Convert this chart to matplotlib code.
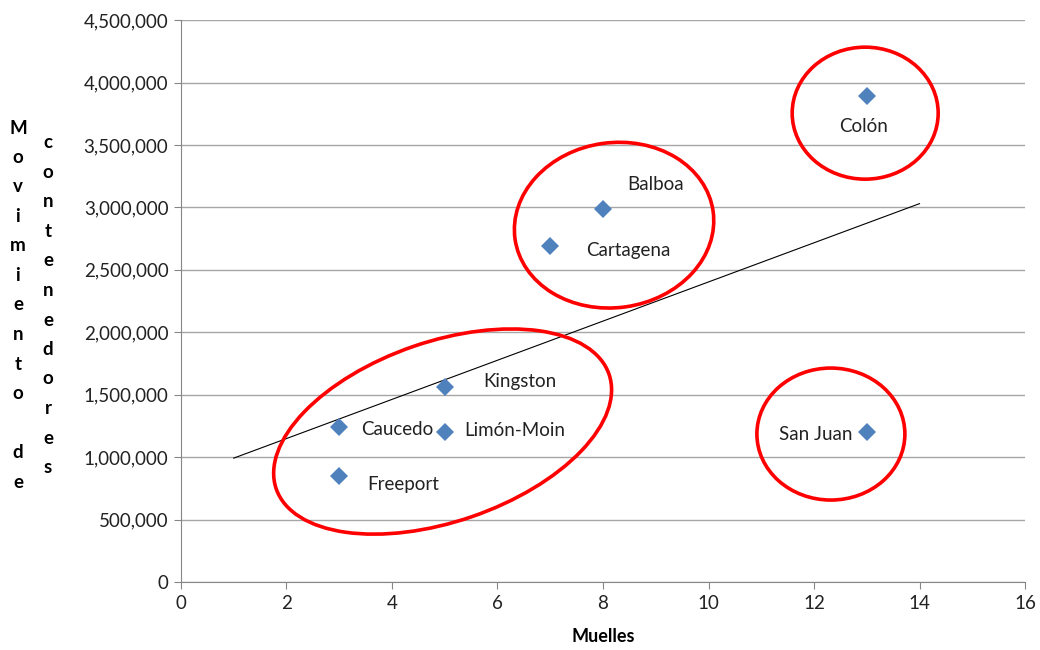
import numpy as np
import matplotlib
matplotlib.use('Agg')
import matplotlib.pyplot as plt
from matplotlib.patches import Ellipse
from matplotlib.transforms import ScaledTranslation
from matplotlib.ticker import FuncFormatter

plt.rcParams['font.family'] = ['Lato', 'DejaVu Sans']

# puertos: muelles vs movimiento de contenedores (TEU)
puertos = ['Colón', 'Balboa', 'Cartagena', 'Kingston', 'Caucedo', 'Limón-Moin', 'Freeport', 'San Juan']
muelles = [13, 8, 7, 5, 3, 5, 3, 13]
contenedores = [3890000, 2990000, 2690000, 1560000, 1240000, 1200000, 850000, 1200000]

# where each label sits relative to its marker (pixels) and its alignment
label_offsets = {
    'Colón': ((-3, -30), 'center'),
    'Balboa': ((24, 24), 'left'),
    'Cartagena': ((36, -4), 'left'),
    'Kingston': ((39, 6), 'left'),
    'Caucedo': ((22, -2), 'left'),
    'Limón-Moin': ((20, 2), 'left'),
    'Freeport': ((28, -9), 'left'),
    'San Juan': ((-14, -2), 'right'),
}

# highlight rings: centre in data units, width/height in pixels, angle in degrees
rings = [
    ((12.97, 3755000), 146, 132, 0),
    ((8.21, 2858000), 200, 165, 8),
    ((4.96, 1205000), 352, 180, 19),
    ((12.32, 1185000), 148, 132, 0),
]

trend_range = [1, 14]

fig = plt.figure(figsize=(10.4, 6.5), dpi=100)
ax = fig.add_axes([0.174, 0.1046, 0.8116, 0.8644])

ax.plot(muelles, contenedores, 'D', color='#4f81bd', markersize=9, zorder=4, markeredgewidth=0)

# linear trendline, extended one step back and forward like the spreadsheet did
m, b = np.polyfit(muelles, contenedores, 1)
xt = np.array(trend_range)
ax.plot(xt, m * xt + b, color='black', lw=0.8, zorder=3)

for name, x, y in zip(puertos, muelles, contenedores):
    (dx, dy), ha = label_offsets[name]
    ax.annotate(name, (x, y), xytext=(dx, dy), textcoords='offset pixels',
                ha=ha, va='center', fontsize=13.5, color='#222222', zorder=5)

for (cx, cy), w, h, ang in rings:
    tr = fig.dpi_scale_trans + ScaledTranslation(cx, cy, ax.transData)
    ax.add_patch(Ellipse((0, 0), w / 100, h / 100, angle=ang, transform=tr,
                         fill=False, edgecolor='#ff0000', lw=2.6, zorder=6))

ax.set_xlim(0, 16)
ax.set_ylim(0, 4500000)
ax.set_xticks(np.arange(0, 17, 2))
ax.set_yticks(np.arange(0, 4500001, 500000))
ax.yaxis.set_major_formatter(FuncFormatter(lambda v, p: f'{int(v):,}'))
ax.grid(axis='y', color='#a6a6a6', lw=1)
ax.set_axisbelow(True)

for s in ['top', 'right']:
    ax.spines[s].set_visible(False)
for s in ['left', 'bottom']:
    ax.spines[s].set_color('#868686')
ax.tick_params(direction='out', length=5, color='#868686', labelsize=13.5,
               labelcolor='#222222', pad=4)

ax.set_xlabel('Muelles', fontsize=13, fontweight='bold', labelpad=12)

# stacked vertical y label, two columns
col1 = 'Movimiento de'
col2 = 'contenedores'
step = 29.5
for i, ch in enumerate(col1):
    fig.text(18 / 1040, 1 - (128 + i * step) / 650, ch, ha='center', va='center',
             fontsize=13.5, fontweight='bold')
for i, ch in enumerate(col2):
    fig.text(48 / 1040, 1 - (143 + i * step) / 650, ch, ha='center', va='center',
             fontsize=13.5, fontweight='bold')

fig.savefig('out.png', dpi=100)
